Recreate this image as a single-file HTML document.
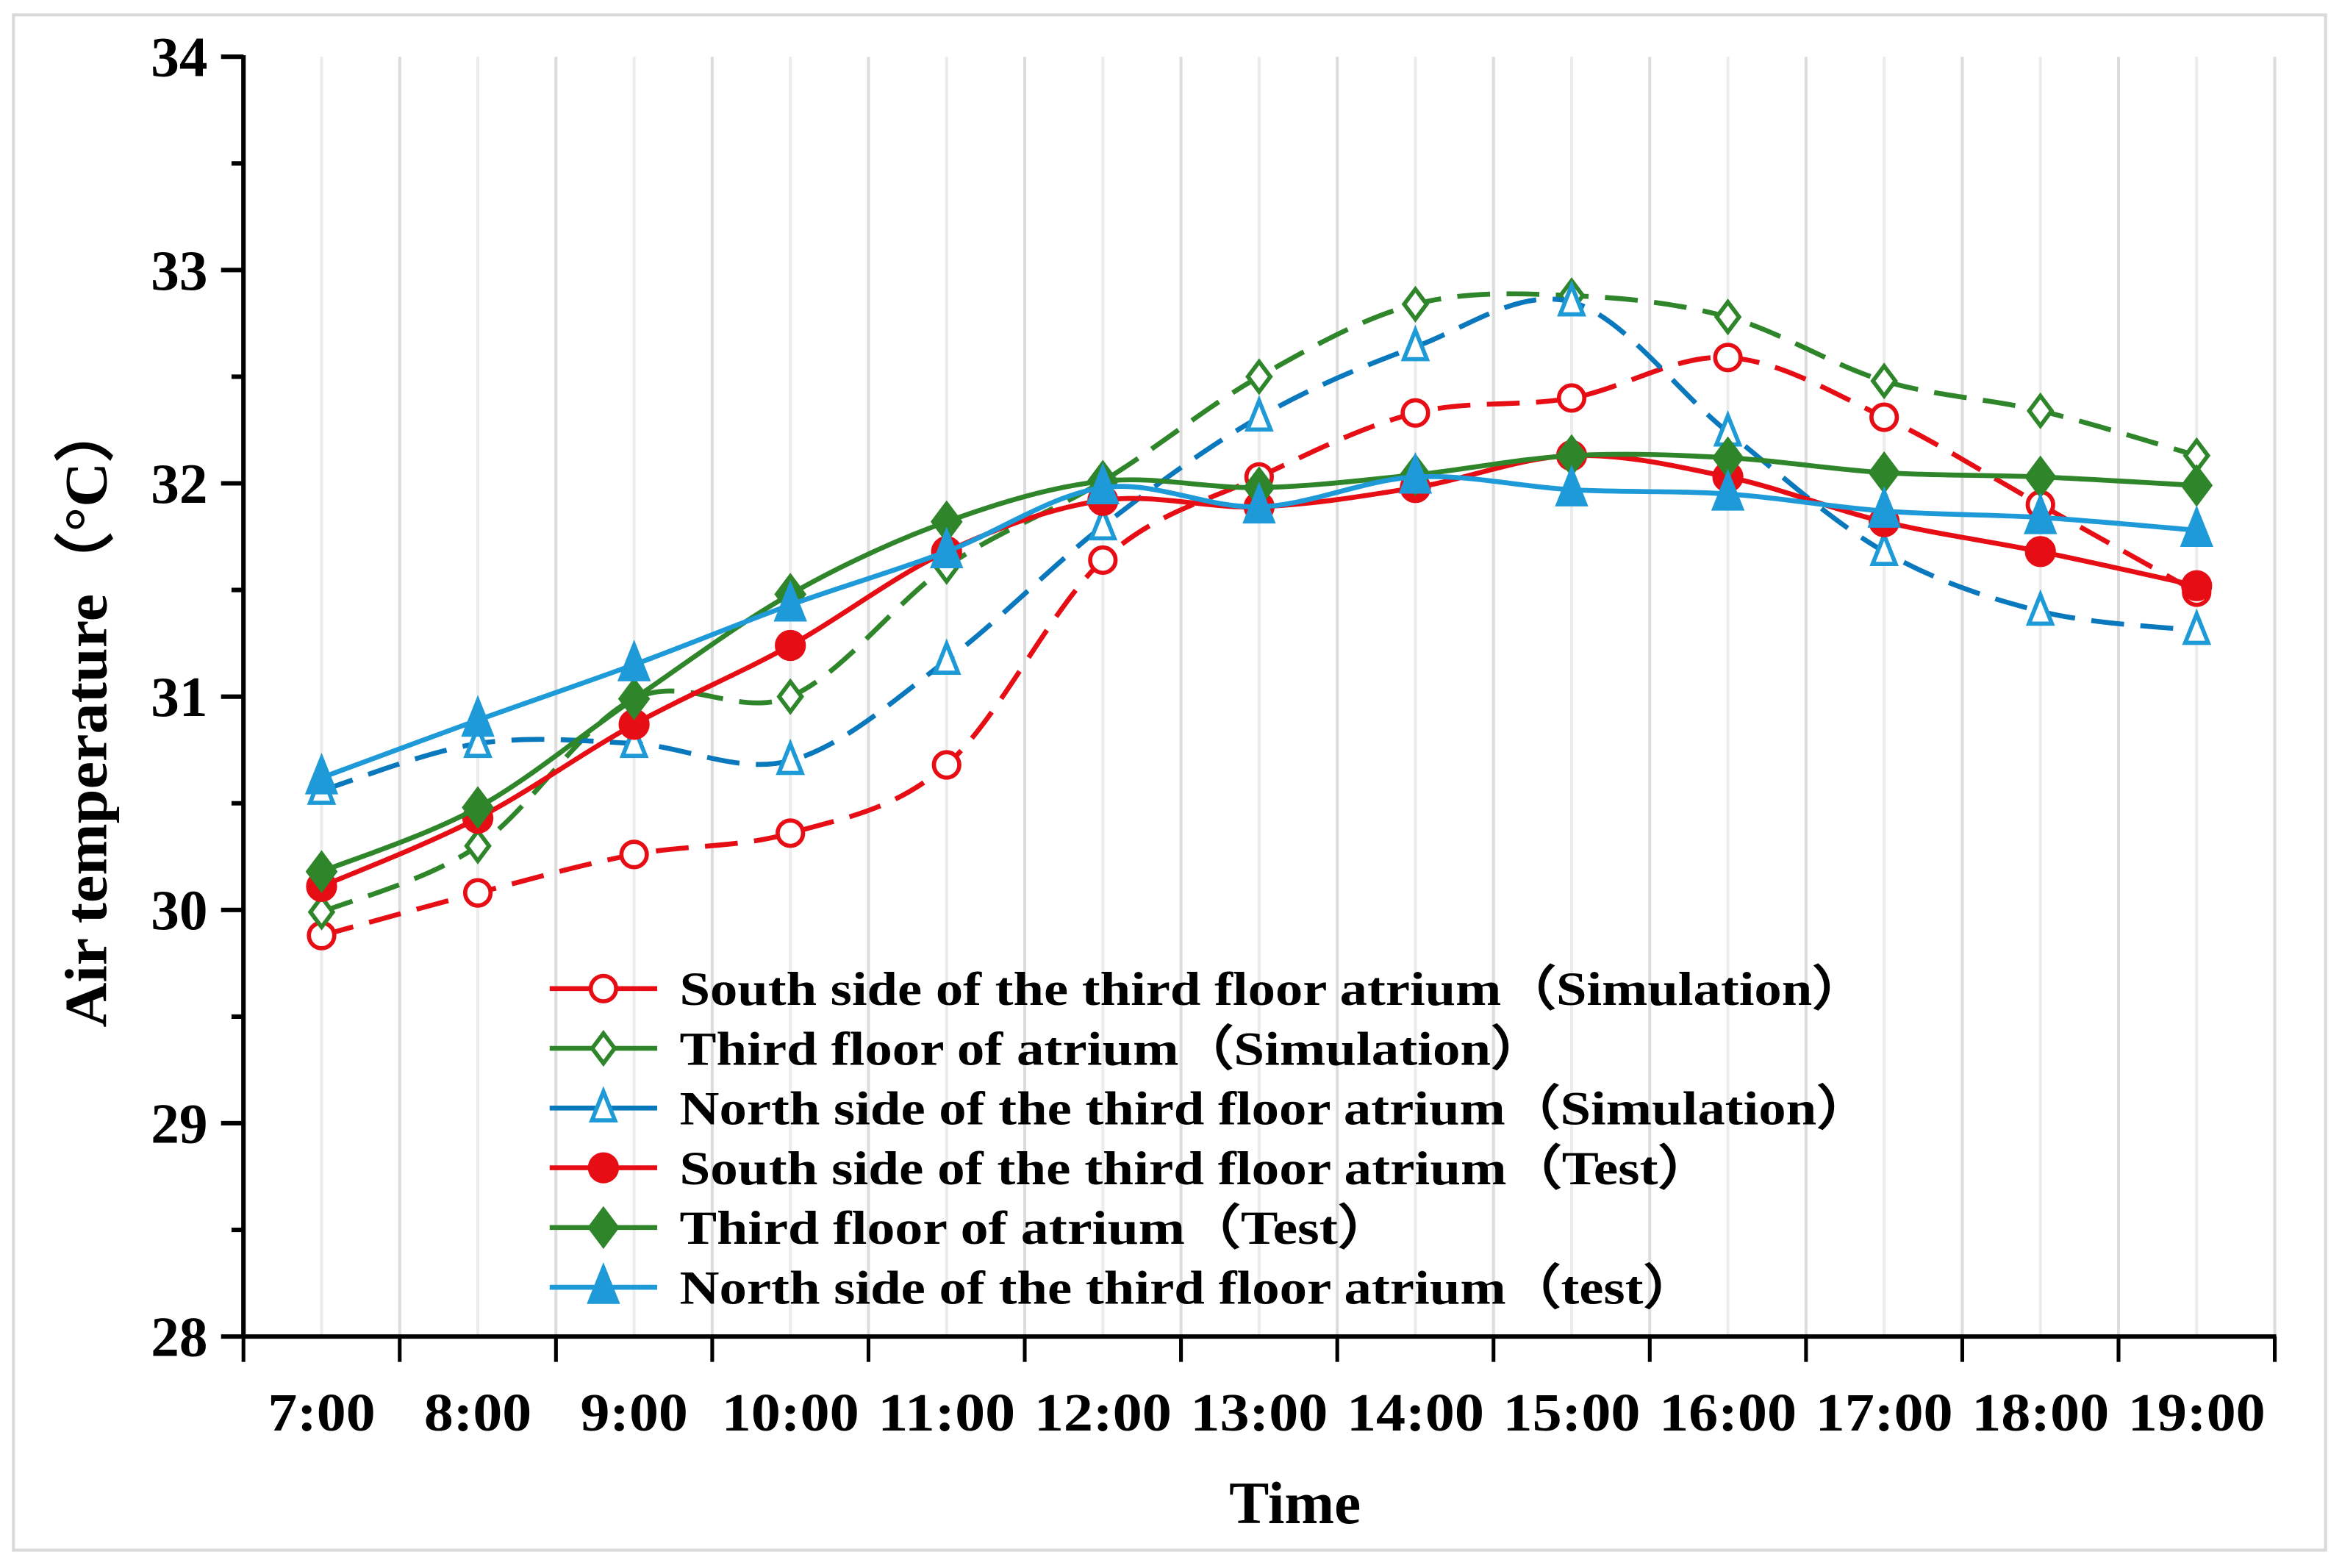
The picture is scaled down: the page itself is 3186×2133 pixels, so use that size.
<!DOCTYPE html>
<html><head><meta charset="utf-8"><style>
html,body{margin:0;padding:0;background:#fff}
svg{display:block}
text{font-family:"Liberation Serif","Times New Roman",serif;font-weight:bold;fill:#000}
</style></head><body>
<svg id="chart" width="3186" height="2133" viewBox="0 0 1568 1050" preserveAspectRatio="none" xmlns="http://www.w3.org/2000/svg">
<rect x="9" y="10" width="1548" height="1028" fill="#fff" stroke="#d9d9d9" stroke-width="2"/>
<g id="grid"></g>
<g id="axes"></g>
<g id="series"></g>
<g id="legend"></g>
<text x="867" y="1020" font-size="40" text-anchor="middle">Time</text>
<text transform="translate(71,478) rotate(-90)" font-size="40" text-anchor="middle" textLength="420" lengthAdjust="spacingAndGlyphs">Air temperature（°C）</text>
</svg>
<script>
const categories=["7:00","8:00","9:00","10:00","11:00","12:00","13:00","14:00","15:00","16:00","17:00","18:00","19:00"];
const yTicks=[28,29,30,31,32,33,34];
const southSim=[29.88,30.08,30.26,30.36,30.68,31.64,32.03,32.33,32.40,32.59,32.31,31.90,31.49];
const thirdSim=[29.99,30.30,30.99,31.00,31.61,32.01,32.50,32.84,32.88,32.78,32.48,32.34,32.13];
const northSim=[30.56,30.78,30.78,30.70,31.17,31.80,32.31,32.64,32.85,32.24,31.68,31.40,31.31];
const southTest=[30.11,30.43,30.87,31.24,31.68,31.92,31.89,31.98,32.13,32.03,31.82,31.68,31.52];
const thirdTest=[30.18,30.48,30.99,31.48,31.82,32.01,31.98,32.04,32.13,32.12,32.05,32.03,31.99];
const northTest=[30.62,30.89,31.15,31.43,31.68,31.98,31.89,32.03,31.97,31.95,31.87,31.84,31.78];
const legendLabels=["South side of the third floor atrium（Simulation）","Third floor of atrium（Simulation）","North side of the third floor atrium（Simulation）","South side of the third floor atrium（Test）","Third floor of atrium（Test）","North side of the third floor atrium（test）"];
const legendTextWidths=[795,580,798,692,478,682];

const NS="http://www.w3.org/2000/svg";
const X0=163,X1=1523,Y0=895,Y1=38,YMIN=28,YMAX=34;
const step=(X1-X0)/categories.length;
const xPos=i=>X0+step*(i+0.5);
const yPos=v=>Y0-(v-YMIN)/(YMAX-YMIN)*(Y0-Y1);
function mk(tag,attrs,parent){const e=document.createElementNS(NS,tag);for(const k in attrs)e.setAttribute(k,attrs[k]);parent.appendChild(e);return e;}
const grid=document.getElementById('grid'),axes=document.getElementById('axes'),ser=document.getElementById('series'),leg=document.getElementById('legend');
for(let k=1;k<categories.length*2;k++){
  const x=X0+step*k/2;
  const g=mk('line',{x1:x,x2:x,y1:Y1,y2:Y0,stroke:k%2?'#ececec':'#dcdcdc','stroke-width':2},grid);
  
  
}
const gl=mk('line',{x1:X1,x2:X1,y1:Y1,y2:Y0,stroke:'#dcdcdc','stroke-width':2},grid);


const ya=mk('line',{x1:X0,x2:X0,y1:Y1-1,y2:Y0+1,stroke:'#000','stroke-width':3},axes);


const xa=mk('line',{x1:X0-1,x2:X1+1,y1:Y0,y2:Y0,stroke:'#000','stroke-width':3},axes);


yTicks.forEach((v,i)=>{
  const y=yPos(v);
  const t=mk('line',{x1:X0-15,x2:X0,y1:y,y2:y,stroke:'#000','stroke-width':3},axes);
  
  
  const l=mk('text',{x:139,y:y+13,'font-size':38,'text-anchor':'end'},axes);
  l.textContent=v;
  
  
  if(i<yTicks.length-1){
    const ym=yPos(v+0.5);
    const m=mk('line',{x1:X0-8,x2:X0,y1:ym,y2:ym,stroke:'#000','stroke-width':3},axes);
    
    
  }
});
for(let k=0;k<=categories.length;k++){
  const x=X0+step*k;
  const t=mk('line',{x1:x,x2:x,y1:Y0,y2:Y0+17,stroke:'#000','stroke-width':2.5},axes);
  
  
}
categories.forEach((c,i)=>{
  const l=mk('text',{x:xPos(i),y:958,'font-size':36,'text-anchor':'middle',textLength:c.length>4?92:72,lengthAdjust:'spacingAndGlyphs'},axes);
  l.textContent=c;
  
  
});
function smooth(pts){
  let d=`M${pts[0][0]},${pts[0][1]}`;
  for(let i=0;i<pts.length-1;i++){
    const p0=pts[i-1]||pts[i],p1=pts[i],p2=pts[i+1],p3=pts[i+2]||p2,t=6;
    d+=` C${p1[0]+(p2[0]-p0[0])/t},${p1[1]+(p2[1]-p0[1])/t} ${p2[0]-(p3[0]-p1[0])/t},${p2[1]-(p3[1]-p1[1])/t} ${p2[0]},${p2[1]}`;
  }
  return d;
}
function marker(type,filled,color,x,y,parent,s){
  s=s||1;const fill=filled?color:'#fff';let e;
  if(type==='circle')e=mk('circle',{cx:x,cy:y,r:(filled?9:8.5)*s,fill:fill,stroke:color,'stroke-width':2.8},parent);
  else if(type==='diamond'){const r=(filled?12:10)*s;e=mk('polygon',{points:`${x},${y-r} ${x+r*0.75},${y} ${x},${y+r} ${x-r*0.75},${y}`,fill:fill,stroke:color,'stroke-width':2.8},parent);}
  else {const r=(filled?13:11)*s;e=mk('polygon',{points:`${x},${y-r} ${x+r*0.7},${y+r*0.75} ${x-r*0.7},${y+r*0.75}`,fill:fill,stroke:color,'stroke-width':2.8},parent);}
  return e;
}
const seriesDefs=[
 {data:southSim,color:'#e60e14',mcolor:'#e60e14',dash:'22 11',type:'circle',filled:false,name:'south-simulation'},
 {data:thirdSim,color:'#2f862a',mcolor:'#2f862a',dash:'22 11',type:'diamond',filled:false,name:'third-floor-simulation'},
 {data:northSim,color:'#0a78bd',mcolor:'#1e9ad6',dash:'22 11',type:'triangle',filled:false,name:'north-simulation'},
 {data:southTest,color:'#e60e14',mcolor:'#e60e14',dash:null,type:'circle',filled:true,name:'south-test'},
 {data:thirdTest,color:'#2f862a',mcolor:'#2f862a',dash:null,type:'diamond',filled:true,name:'third-floor-test'},
 {data:northTest,color:'#1f9ad8',mcolor:'#1f9ad8',dash:null,type:'triangle',filled:true,name:'north-test'}
];
seriesDefs.forEach((s,si)=>{
  const g=mk('g',{},ser);
  
  
  const pts=s.data.map((v,i)=>[xPos(i),yPos(v)]);
  const a={d:smooth(pts),fill:'none',stroke:s.color,'stroke-width':3.3};
  if(s.dash)a['stroke-dasharray']=s.dash;
  const p=mk('path',a,g);
  
  
  pts.forEach(pt=>{
    const m=marker(s.type,s.filled,s.mcolor,pt[0],pt[1],g);
    
    
  });
  const ly=662+40*si;
  const lg=mk('g',{},leg);
  
  
  mk('line',{x1:368,x2:440,y1:ly,y2:ly,stroke:s.color,'stroke-width':3.3},lg);
  marker(s.type,s.filled,s.mcolor,404,ly,lg);
  const t=mk('text',{x:455,y:ly+11,'font-size':32,textLength:legendTextWidths[si],lengthAdjust:'spacingAndGlyphs'},lg);
  t.textContent=legendLabels[si];
  
  
});
</script>
</body></html>
